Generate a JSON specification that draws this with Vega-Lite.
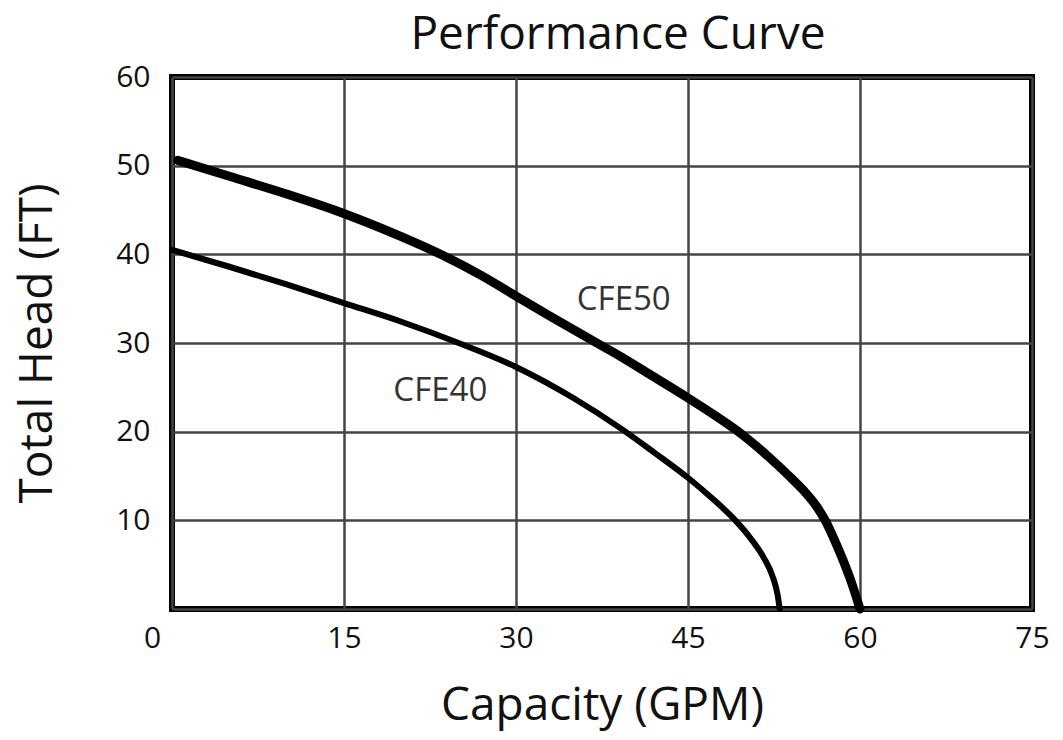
{
  "$schema": "https://vega.github.io/schema/vega-lite/v6.json",
  "autosize": "none",
  "width": 860,
  "height": 532,
  "padding": {"left": 172, "top": 77, "right": 31, "bottom": 131},
  "background": "white",
  "config": {
    "view": {"stroke": "#000", "strokeWidth": 6},
    "font": "Open Sans"
  },
  "title": {
    "text": "Performance Curve",
    "fontSize": 46,
    "fontWeight": "normal",
    "font": "Open Sans",
    "color": "#111",
    "offset": 3,
    "dx": 16
  },
  "datasets": {
    "curves": [
      {"series": "CFE50", "gpm": 0.5, "head": 50.6},
      {"series": "CFE50", "gpm": 5, "head": 48.8},
      {"series": "CFE50", "gpm": 10, "head": 46.8},
      {"series": "CFE50", "gpm": 14.8, "head": 44.7},
      {"series": "CFE50", "gpm": 20, "head": 42.0},
      {"series": "CFE50", "gpm": 23.6, "head": 39.9},
      {"series": "CFE50", "gpm": 27, "head": 37.6},
      {"series": "CFE50", "gpm": 30, "head": 35.3},
      {"series": "CFE50", "gpm": 33, "head": 33.0},
      {"series": "CFE50", "gpm": 36.5, "head": 30.4},
      {"series": "CFE50", "gpm": 39.1, "head": 28.5},
      {"series": "CFE50", "gpm": 42, "head": 26.2},
      {"series": "CFE50", "gpm": 45, "head": 23.8},
      {"series": "CFE50", "gpm": 47.5, "head": 21.7},
      {"series": "CFE50", "gpm": 49.8, "head": 19.6},
      {"series": "CFE50", "gpm": 52, "head": 17.2},
      {"series": "CFE50", "gpm": 53.9, "head": 14.9},
      {"series": "CFE50", "gpm": 55.2, "head": 13.2},
      {"series": "CFE50", "gpm": 56.2, "head": 11.6},
      {"series": "CFE50", "gpm": 57.0, "head": 9.9},
      {"series": "CFE50", "gpm": 57.7, "head": 8.0},
      {"series": "CFE50", "gpm": 58.4, "head": 5.9},
      {"series": "CFE50", "gpm": 59.2, "head": 3.2},
      {"series": "CFE50", "gpm": 60, "head": 0},
      {"series": "CFE40", "gpm": 0, "head": 40.5},
      {"series": "CFE40", "gpm": 5, "head": 38.6},
      {"series": "CFE40", "gpm": 10, "head": 36.6},
      {"series": "CFE40", "gpm": 15, "head": 34.5},
      {"series": "CFE40", "gpm": 20, "head": 32.4},
      {"series": "CFE40", "gpm": 25, "head": 30.0},
      {"series": "CFE40", "gpm": 30, "head": 27.3},
      {"series": "CFE40", "gpm": 35, "head": 23.8},
      {"series": "CFE40", "gpm": 39.1, "head": 20.4},
      {"series": "CFE40", "gpm": 42, "head": 17.7},
      {"series": "CFE40", "gpm": 45, "head": 14.8},
      {"series": "CFE40", "gpm": 47, "head": 12.6},
      {"series": "CFE40", "gpm": 48.9, "head": 10.3},
      {"series": "CFE40", "gpm": 50.5, "head": 7.9},
      {"series": "CFE40", "gpm": 51.6, "head": 5.8},
      {"series": "CFE40", "gpm": 52.4, "head": 3.6},
      {"series": "CFE40", "gpm": 52.8, "head": 1.7},
      {"series": "CFE40", "gpm": 53, "head": 0}
    ],
    "labels": [
      {"label": "CFE50", "gpm": 39.4, "head": 34.8},
      {"label": "CFE40", "gpm": 23.4, "head": 24.6}
    ]
  },
  "layer": [
    {
      "data": {"name": "curves"},
      "mark": {"type": "line", "interpolate": "monotone", "color": "#000", "strokeCap": "round"},
      "encoding": {
        "x": {
          "field": "gpm", "type": "quantitative",
          "scale": {"domain": [0, 75], "nice": false},
          "axis": {
            "values": [0, 15, 30, 45, 60, 75],
            "title": "Capacity (GPM)",
            "titleFontSize": 46, "titleFontWeight": "normal", "titleColor": "#111", "titlePadding": 30,
            "labelFontSize": 30, "labelColor": "#111", "labelPadding": 14,
            "labelAlign": "center",
            "labelOffset": {"condition": {"test": "datum.value == 0", "value": -20}, "value": 0},
            "domain": false, "ticks": false,
            "grid": true, "gridColor": "#444", "gridWidth": 2.5, "gridOpacity": 1
          }
        },
        "y": {
          "field": "head", "type": "quantitative",
          "scale": {"domain": [0, 60], "nice": false},
          "axis": {
            "values": [0, 10, 20, 30, 40, 50, 60],
            "labelExpr": "datum.value == 0 ? '' : datum.label",
            "title": "Total Head (FT)",
            "titleFontSize": 46, "titleFontWeight": "normal", "titleColor": "#111", "titlePadding": 54,
            "labelFontSize": 30, "labelColor": "#111", "labelPadding": 22,
            "domain": false, "ticks": false,
            "grid": true, "gridColor": "#444", "gridWidth": 2.5, "gridOpacity": 1
          }
        },
        "detail": {"field": "series"},
        "strokeWidth": {
          "field": "series", "type": "nominal",
          "scale": {"domain": ["CFE50", "CFE40"], "range": [9, 6]},
          "legend": null
        }
      }
    },
    {
      "data": {"name": "labels"},
      "mark": {"type": "text", "fontSize": 33, "color": "#333", "font": "Open Sans"},
      "encoding": {
        "x": {"field": "gpm", "type": "quantitative"},
        "y": {"field": "head", "type": "quantitative"},
        "text": {"field": "label"}
      }
    }
  ]
}
